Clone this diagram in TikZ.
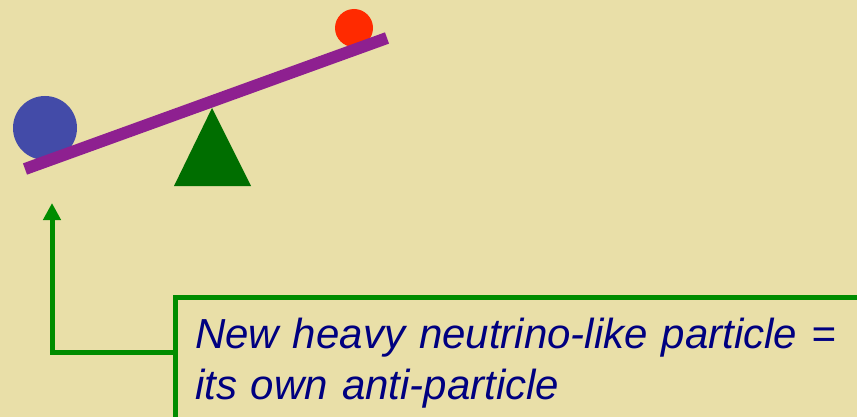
\documentclass[tikz,border=0pt]{standalone}
\usepackage{fontspec}
\newfontfamily\labelfont{Liberation Sans}
\usetikzlibrary{arrows.meta}

\definecolor{sand}{HTML}{E9DFA8}
\definecolor{beam}{HTML}{8E2090}
\definecolor{heavy}{HTML}{434BA8}
\definecolor{light}{HTML}{FF2A00}
\definecolor{pivot}{HTML}{006E00}
\definecolor{link}{HTML}{008C00}
\definecolor{ink}{HTML}{000080}

\tikzset{
    linkline/.style={draw=link, line width=5pt},
    notebox/.style={linkline, anchor=north west, outer sep=0pt, text width=700pt,
        inner xsep=20pt, inner ysep=21pt, align=left, text=ink,
        font=\labelfont\itshape\fontsize{42}{51}\selectfont}
}

\begin{document}
\begin{tikzpicture}[x=1pt,y=-1pt]
    \fill[sand] (0,0) rectangle (857,417);
    \clip (0,0) rectangle (857,417);
    \coordinate (L) at (25,169);
    \coordinate (R) at (387,38);
    \coordinate (tip) at (52,203);
    \coordinate (elbow) at (52,352);
    \fill[heavy] (45,128) circle (32);
    \fill[light] (354,28) circle (19);
    \fill[pivot] (212,108) -- (251,186) -- (174,186) -- cycle;
    \draw[beam, line width=12pt] (L) -- (R);
    \node[notebox] (note) at (175,297) {New heavy neutrino-like particle =\\its own anti-particle};
    \draw[linkline, -{Triangle[length=17pt,width=17pt]}] (note.west |- elbow) -- (elbow) -- (tip);
\end{tikzpicture}
\end{document}
